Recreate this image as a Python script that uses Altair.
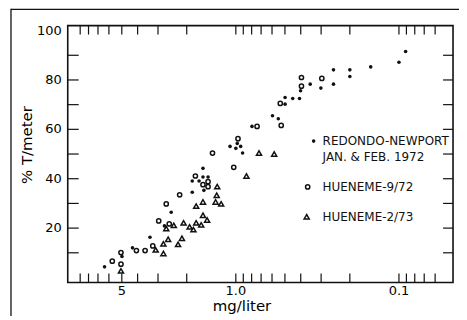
import altair as alt
import pandas as pd

# ---------------- data ----------------
# REDONDO-NEWPORT, JAN. & FEB. 1972  (filled dots)
redondo_x = [6.38, 4.99, 4.30, 3.36, 2.74, 2.49, 1.85, 1.85, 1.68, 1.59, 1.59, 1.48, 1.57,
             1.085, 0.98, 0.934, 1.0, 0.909, 0.796, 0.596, 0.549, 0.499, 0.448, 0.407, 0.499,
             0.401, 0.350, 0.301, 0.252, 0.252, 0.200, 0.200, 0.149, 0.100, 0.091]
redondo_y = [4.3, 8.5, 12.0, 16.3, 20.9, 26.4, 34.5, 39.1, 39.1, 44.2, 40.7, 40.7, 35.3,
             53.1, 54.3, 53.1, 52.3, 50.4, 61.2, 65.5, 64.3, 72.9, 72.5, 72.5, 70.2,
             75.6, 78.3, 76.7, 84.1, 78.3, 84.1, 81.4, 85.3, 87.2, 91.5]

# HUENEME-9/72 (open circles)
h972_x = [5.72, 5.06, 5.06, 4.07, 3.60, 3.23, 2.97, 2.56, 2.67, 2.21, 1.77, 1.48, 1.59, 1.48,
          1.39, 1.03, 0.97, 0.741, 0.534, 0.527, 0.396, 0.396, 0.297]
h972_y = [6.6, 10.1, 5.4, 10.9, 10.9, 12.8, 22.9, 21.7, 29.8, 33.5, 41.1, 38.8, 37.6, 36.8,
          50.4, 44.6, 56.2, 61.2, 70.5, 61.6, 81.0, 77.5, 80.6]

# HUENEME-2/73 (open triangles)
h273_x = [5.06, 3.10, 2.78, 2.78, 2.60, 2.67, 2.40, 2.26, 2.14, 2.09, 1.92, 1.82, 1.75, 1.63,
          1.59, 1.50, 1.75, 1.59, 1.33, 1.23, 1.31, 1.30, 0.861, 0.721, 0.582]
h273_y = [2.7, 11.2, 13.6, 9.7, 15.5, 19.8, 21.1, 13.4, 15.9, 22.1, 20.5, 19.4, 22.1, 21.3,
          25.2, 23.3, 28.9, 30.6, 30.6, 29.8, 33.3, 36.8, 41.1, 50.4, 50.0]

x_label_values = [5, 1, 0.1]
x_label_texts = ["5", "1.0", "0.1"]
y_label_values = [20, 40, 60, 80, 100]
y_label_texts = ["20", "40", "60", "80", "100"]
x_tick_values = [9, 8, 7, 6, 5, 4, 3, 2, 1, 0.9, 0.8, 0.7, 0.6, 0.5, 0.4, 0.3, 0.2,
                 0.1, 0.09, 0.08, 0.07, 0.06]
y_tick_values = [10, 20, 30, 40, 50, 60, 70, 80, 90]

legend_labels = ["REDONDO-NEWPORT", "JAN. & FEB. 1972", "HUENEME-9/72", "HUENEME-2/73"]

x_title = "mg/liter"
y_title = "% T/meter"

# ---------------- chart ----------------
W, H = 387, 258
FONT = "DejaVu Sans"
INK = "#111111"

xscale = alt.Scale(type="log", domain=[0.05, 10], reverse=True)
yscale = alt.Scale(domain=[0, 100], nice=False)


def X(f="x"):
    return alt.X(f"{f}:Q", scale=xscale, axis=None)


def Y(f="y"):
    return alt.Y(f"{f}:Q", scale=yscale, axis=None)


df_r = pd.DataFrame({"x": redondo_x, "y": redondo_y})
df_c = pd.DataFrame({"x": h972_x, "y": h972_y})
df_t = pd.DataFrame({"x": h273_x, "y": h273_y})

dots = alt.Chart(df_r).mark_circle(size=13, color=INK, opacity=1).encode(x=X(), y=Y())
circles = alt.Chart(df_c).mark_point(
    shape="circle", filled=False, size=18, strokeWidth=1.5, color=INK, opacity=1
).encode(x=X(), y=Y())
tris = alt.Chart(df_t).mark_point(
    shape="triangle-up", filled=False, size=26, strokeWidth=1.5, color=INK, opacity=1
).encode(x=X(), y=Y())

# inward ticks drawn as thin bars
xt = pd.DataFrame({"x": x_tick_values})
yt = pd.DataFrame({"y": y_tick_values})
bottom_ticks = alt.Chart(xt).mark_bar(width=1.2, color=INK, opacity=1).encode(
    x=X(), y=alt.value(H), y2=alt.value(H - 9))
top_ticks = alt.Chart(xt).mark_bar(width=1.2, color=INK, opacity=1).encode(
    x=X(), y=alt.value(0), y2=alt.value(9))
left_ticks = alt.Chart(yt).mark_bar(height=1.2, orient="horizontal", color=INK,
                                    opacity=1).encode(
    y=Y(), x=alt.value(0), x2=alt.value(11))
right_ticks = alt.Chart(yt).mark_bar(height=1.2, orient="horizontal", color=INK,
                                     opacity=1).encode(
    y=Y(), x=alt.value(W - 10), x2=alt.value(W))

# tick labels, placed through the scales
xl = pd.DataFrame({"x": x_label_values, "t": x_label_texts})
yl = pd.DataFrame({"y": y_label_values, "t": y_label_texts})
x_labels = alt.Chart(xl).mark_text(
    align="center", baseline="middle", font=FONT, fontSize=13, color="black"
).encode(x=X(), y=alt.value(H + 9), text="t:N")
y_labels = alt.Chart(yl).mark_text(
    align="right", baseline="middle", font=FONT, fontSize=13, color="black"
).encode(y=Y(), x=alt.value(-6), text="t:N")

# axis titles
x_title_mark = alt.Chart(pd.DataFrame({"t": [x_title]})).mark_text(
    align="center", baseline="middle", font=FONT, fontSize=15, color="black"
).encode(x=alt.value(175), y=alt.value(H + 24), text="t:N")
y_title_mark = alt.Chart(pd.DataFrame({"t": [y_title]})).mark_text(
    align="center", baseline="middle", font=FONT, fontSize=15, color="black", angle=270
).encode(x=alt.value(-41), y=alt.value(120), text="t:N")

# outer scan frame (left and top edges)
one = pd.DataFrame({"a": [0]})
frame_left = alt.Chart(one).mark_rule(color=INK, strokeWidth=1.3).encode(
    x=alt.value(-57), y=alt.value(-17), y2=alt.value(300))
frame_top = alt.Chart(one).mark_rule(color=INK, strokeWidth=1.3).encode(
    y=alt.value(-16.2), x=alt.value(-57), x2=alt.value(400))


# legend
def legend_text(label, px, py):
    return alt.Chart(pd.DataFrame({"t": [label]})).mark_text(
        align="left", baseline="middle", font=FONT, fontSize=12, color=INK
    ).encode(x=alt.value(px), y=alt.value(py), text="t:N")


leg_dot = alt.Chart(one).mark_circle(size=13, color=INK, opacity=1).encode(
    x=alt.value(247), y=alt.value(116))
leg_circ = alt.Chart(one).mark_point(shape="circle", filled=False, size=18,
                                     strokeWidth=1.5, color=INK, opacity=1).encode(
    x=alt.value(241), y=alt.value(162))
leg_tri = alt.Chart(one).mark_point(shape="triangle-up", filled=False, size=26,
                                    strokeWidth=1.5, color=INK, opacity=1).encode(
    x=alt.value(240), y=alt.value(192))

legend_layers = [
    legend_text(legend_labels[0], 256, 116),
    legend_text(legend_labels[1], 256, 132),
    legend_text(legend_labels[2], 256, 162),
    legend_text(legend_labels[3], 256, 192),
    leg_dot, leg_circ, leg_tri,
]

chart = alt.layer(
    dots, circles, tris,
    bottom_ticks, top_ticks, left_ticks, right_ticks,
    x_labels, y_labels, x_title_mark, y_title_mark,
    frame_left, frame_top,
    *legend_layers,
).properties(
    width=W, height=H,
    autosize=alt.AutoSizeParams(type="none"),
    padding={"left": 60, "top": 17, "right": 6, "bottom": 33},
    background="white",
).configure_view(
    stroke=INK, strokeWidth=1.6
)

chart.save("out.html", embed_options={"renderer": "svg", "actions": False})
